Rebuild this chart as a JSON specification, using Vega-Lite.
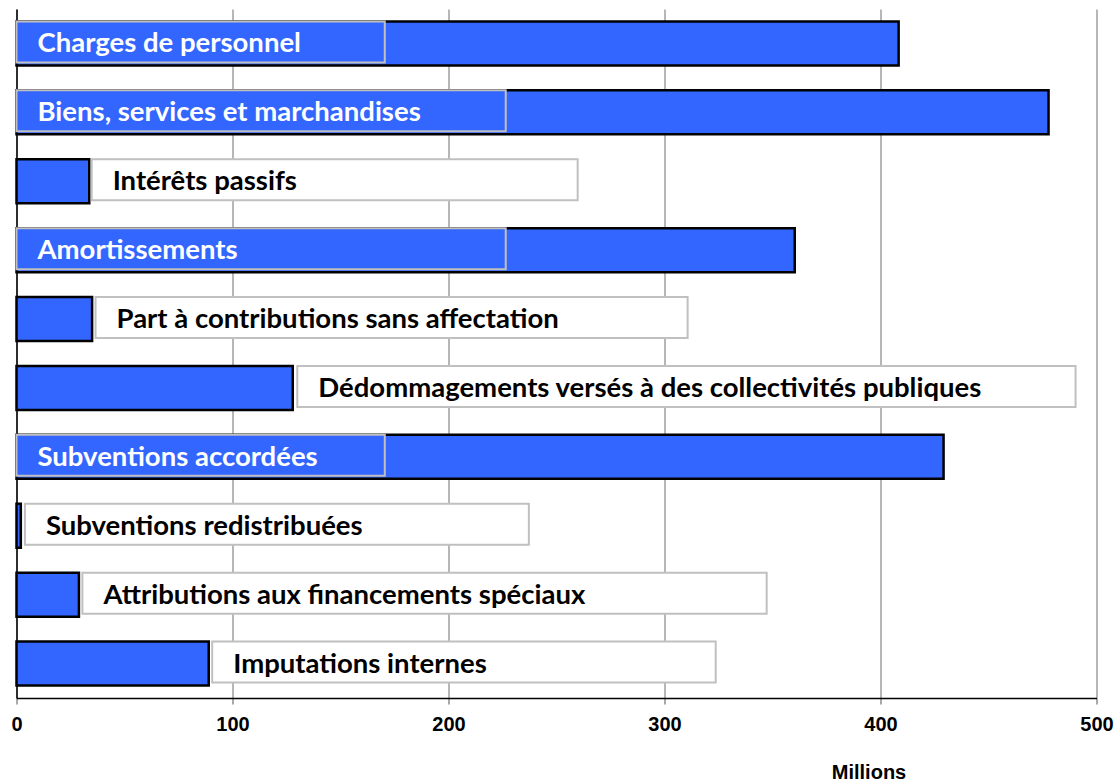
{
  "$schema": "https://vega.github.io/schema/vega-lite/v6.json",
  "width": 1080,
  "height": 689,
  "autosize": "none",
  "padding": {"left": 16.5, "top": 9, "right": 23.5, "bottom": 84},
  "background": "white",
  "config": {"view": {"stroke": null}},
  "data": {
    "values": [
      {"categorie": "Charges de personnel", "montant": 408.4, "etiquetteDebut": 0, "etiquetteFin": 170.5},
      {"categorie": "Biens, services et marchandises", "montant": 477.8, "etiquetteDebut": 0, "etiquetteFin": 226.5},
      {"categorie": "Intérêts passifs", "montant": 33.7, "etiquetteDebut": 34.8, "etiquetteFin": 259.8},
      {"categorie": "Amortissements", "montant": 360.3, "etiquetteDebut": 0, "etiquetteFin": 226.5},
      {"categorie": "Part à contributions sans affectation", "montant": 35, "etiquetteDebut": 36.6, "etiquetteFin": 310.7},
      {"categorie": "Dédommagements versés à des collectivités publiques", "montant": 127.9, "etiquetteDebut": 130, "etiquetteFin": 490.3},
      {"categorie": "Subventions accordées", "montant": 429.2, "etiquetteDebut": 0, "etiquetteFin": 170.5},
      {"categorie": "Subventions redistribuées", "montant": 2, "etiquetteDebut": 3.9, "etiquetteFin": 237.2},
      {"categorie": "Attributions aux financements spéciaux", "montant": 28.9, "etiquetteDebut": 30.5, "etiquetteFin": 347.3},
      {"categorie": "Imputations internes", "montant": 89, "etiquetteDebut": 90.6, "etiquetteFin": 323.7}
    ]
  },
  "encoding": {
    "y": {
      "field": "categorie",
      "type": "nominal",
      "sort": null,
      "scale": {"paddingInner": 0.334, "paddingOuter": 0.167},
      "axis": {"labels": false, "ticks": false, "title": null, "grid": false, "domainColor": "black", "domainWidth": 1.5}
    }
  },
  "layer": [
    {
      "mark": {"type": "bar", "fill": "#3366FF", "stroke": "black", "strokeWidth": 2.5, "size": 44},
      "encoding": {
        "x": {
          "field": "montant",
          "type": "quantitative",
          "scale": {"domain": [0, 500], "nice": false},
          "axis": {
            "values": [0, 100, 200, 300, 400, 500],
            "title": "Millions",
            "titleFont": "Liberation Sans",
            "titleFontSize": 20,
            "titleFontWeight": "bold",
            "titleColor": "black",
            "titleX": 852,
            "titleY": 64,
            "titleBaseline": "top",
            "titleAlign": "center",
            "labelFont": "Liberation Sans",
            "labelFontSize": 20,
            "labelFontWeight": "bold",
            "labelColor": "black",
            "labelPadding": 10,
            "labelFlush": false,
            "labelOverlap": false,
            "tickSize": 6,
            "tickColor": "#555555",
            "domainColor": "black",
            "domainWidth": 1.5,
            "grid": true,
            "gridColor": "#6e6e6e",
            "gridWidth": 1
          }
        }
      }
    },
    {
      "mark": {"type": "bar", "stroke": "#c0c0c0", "strokeWidth": 2, "size": 41, "yOffset": -1.5},
      "encoding": {
        "x": {"field": "etiquetteDebut", "type": "quantitative"},
        "x2": {"field": "etiquetteFin"},
        "fill": {"condition": {"test": "datum.montant > 200", "value": "#3366FF"}, "value": "white"}
      }
    },
    {
      "mark": {"type": "text", "align": "left", "baseline": "middle", "dx": 21, "dy": 1, "font": "Lato", "fontWeight": "bold", "fontSize": 27.5},
      "encoding": {
        "x": {"field": "etiquetteDebut", "type": "quantitative"},
        "text": {"field": "categorie"},
        "color": {"condition": {"test": "datum.montant > 200", "value": "white"}, "value": "black"}
      }
    }
  ]
}
